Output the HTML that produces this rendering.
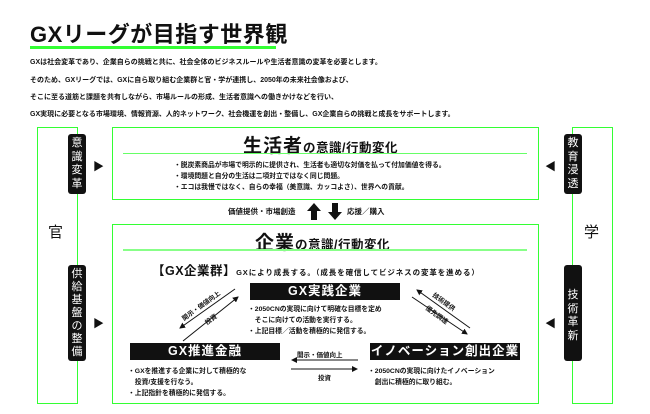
<!DOCTYPE html>
<html><head><meta charset="utf-8"><style>
body{margin:0;width:650px;height:414px;background:#fff;position:relative;overflow:hidden;font-family:"Liberation Sans","Noto Sans CJK JP",sans-serif;color:#111}
.a{position:absolute;white-space:nowrap}
.g{position:absolute;border:1.5px solid #3f3;box-sizing:border-box}
.tag{position:absolute;background:#111;color:#fff;border-radius:3px;font-size:11px;text-align:center;line-height:13.5px;width:18px;padding-top:3px;box-sizing:border-box}
.bk{position:absolute;background:#111;color:#fff;font-size:12.5px;font-weight:bold;text-align:center;line-height:17px;height:17px;letter-spacing:1px}
.s{font-size:6.8px;font-weight:bold;line-height:11px}
.p{font-size:7px;font-weight:bold;letter-spacing:0}
</style></head><body>
<div class="a" style="left:30px;top:17px;font-size:22px;font-weight:bold;letter-spacing:0.5px">GXリーグが目指す世界観</div>
<div class="a" style="left:30px;top:46px;width:246px;height:3px;background:#3f3"></div>
<div class="a p" style="left:30px;top:57px">GXは社会変革であり、企業自らの挑戦と共に、社会全体のビジネスルールや生活者意識の変革を必要とします。</div>
<div class="a p" style="left:30px;top:75px">そのため、GXリーグでは、GXに自ら取り組む企業群と官・学が連携し、2050年の未来社会像および、</div>
<div class="a p" style="left:30px;top:92px">そこに至る道筋と課題を共有しながら、市場ルールの形成、生活者意識への働きかけなどを行い、</div>
<div class="a p" style="left:30px;top:109px">GX実現に必要となる市場環境、情報資源、人的ネットワーク、社会機運を創出・整備し、GX企業自らの挑戦と成長をサポートします。</div>

<div class="g" style="left:37px;top:127px;width:41px;height:277px"></div>
<div class="a" style="left:48px;top:221px;font-size:15px">官</div>
<div class="tag" style="left:68px;top:134px;height:60px">意<br>識<br>変<br>革</div>
<div class="tag" style="left:68px;top:265px;height:96px;line-height:13px">供<br>給<br>基<br>盤<br>の<br>整<br>備</div>
<div class="a" style="left:93px;top:158px;font-size:11px">▶</div>
<div class="a" style="left:93px;top:315px;font-size:11px">▶</div>

<div class="g" style="left:572px;top:127px;width:41px;height:277px"></div>
<div class="a" style="left:584px;top:221px;font-size:15px">学</div>
<div class="tag" style="left:564px;top:134px;height:60px">教<br>育<br>浸<br>透</div>
<div class="tag" style="left:564px;top:265px;height:96px;padding-top:24px">技<br>術<br>革<br>新</div>
<div class="a" style="left:545px;top:158px;font-size:11px">◀</div>
<div class="a" style="left:545px;top:315px;font-size:11px">◀</div>

<div class="g" style="left:112px;top:127px;width:427px;height:73px"></div>
<div class="a" style="left:243px;top:131px;font-size:19px;font-weight:bold;letter-spacing:1px">生活者<span style="font-size:12.5px;letter-spacing:0.5px">の意識/行動変化</span></div>
<div class="a" style="left:123px;top:153px;width:404px;height:1px;background:#6f6"></div>
<div class="a s" style="left:174px;top:160px">・脱炭素商品が市場で明示的に提供され、生活者も適切な対価を払って付加価値を得る。<br>・環境問題と自分の生活は二項対立ではなく同じ問題。<br>・エコは我慢ではなく、自らの幸福（美意識、カッコよさ）、世界への貢献。</div>

<div class="a" style="left:228px;top:206px;font-size:7.5px;font-weight:bold">価値提供・市場創造</div>
<div class="a" style="left:347px;top:206px;font-size:7.5px;font-weight:bold">応援／購入</div>
<svg class="a" style="left:300px;top:200px" width="50" height="24"><polygon points="14,3 21,11 17,11 17,20 11,20 11,11 7,11" fill="#111"/><polygon points="35,20 42,12 38,12 38,3 32,3 32,12 28,12" fill="#111"/></svg>

<div class="g" style="left:112px;top:224px;width:427px;height:180px"></div>
<div class="a" style="left:255px;top:228px;font-size:19px;font-weight:bold;letter-spacing:1px">企業<span style="font-size:12.5px;letter-spacing:0.5px">の意識/行動変化</span></div>
<div class="a" style="left:123px;top:249px;width:404px;height:2px;background:#8f8"></div>
<div class="a" style="left:152px;top:260px;font-size:7.5px;font-weight:bold;letter-spacing:0.9px"><span style="font-size:12.5px;letter-spacing:0.5px">【GX企業群】</span>GXにより成長する。（成長を確信してビジネスの変革を進める）</div>
<div class="bk" style="left:250px;top:283px;width:150px">GX実践企業</div>
<div class="a s" style="left:248px;top:304px">・2050CNの実現に向けて明確な目標を定め<br>　そこに向けての活動を実行する。<br>・上記目標／活動を積極的に発信する。</div>
<div class="bk" style="left:130px;top:343px;width:150px">GX推進金融</div>
<div class="a s" style="left:128px;top:366px">・GXを推進する企業に対して積極的な<br>　投資/支援を行なう。<br>・上記指針を積極的に発信する。</div>
<div class="bk" style="left:370px;top:343px;width:150px">イノベーション創出企業</div>
<div class="a s" style="left:368px;top:366px">・2050CNの実現に向けたイノベーション<br>　創出に積極的に取り組む。</div>
<div class="a" style="left:297px;top:349px;font-size:6.5px;font-weight:bold">開示・価値向上</div>
<div class="a" style="left:318px;top:372px;font-size:6.5px;font-weight:bold">投資</div>
<svg class="a" style="left:0;top:0" width="650" height="414">
<defs><marker id="m" markerWidth="6" markerHeight="6" refX="5" refY="3" orient="auto"><polygon points="0,0 6,3 0,6" fill="#111"/></marker></defs>
<g stroke="#111" stroke-width="1" marker-end="url(#m)">
<line x1="358" y1="360" x2="292" y2="360"/><line x1="291" y1="369" x2="357" y2="369"/>
<line x1="235" y1="289" x2="180" y2="328"/><line x1="183" y1="341" x2="238" y2="297"/>
<line x1="470" y1="328" x2="417" y2="290"/><line x1="412" y1="297" x2="467" y2="334"/>
</g>
<g font-size="6.5" font-weight="bold" fill="#111" font-family="Liberation Sans,Noto Sans CJK JP,sans-serif">
<text transform="translate(184,321) rotate(-36)">開示・価値向上</text>
<text transform="translate(207,325) rotate(-36)">投資</text>
<text transform="translate(432,296) rotate(36)">技術提供</text>
<text transform="translate(425,309) rotate(36)">優先調達</text>
</g></svg>
</body></html>
